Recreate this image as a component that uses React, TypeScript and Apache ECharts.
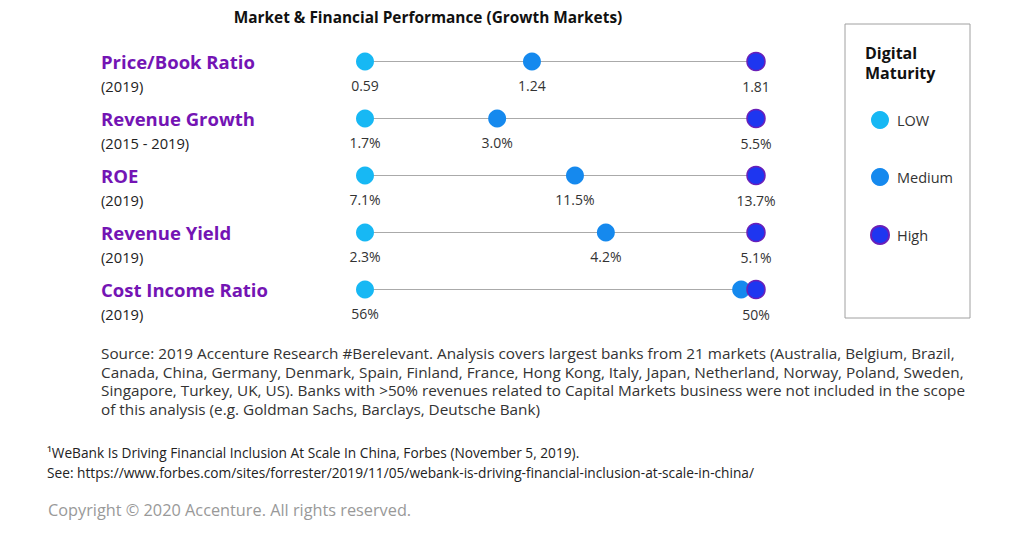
import React, { useEffect, useRef } from "react";
import * as echarts from "echarts";

const metrics = ["Price/Book Ratio", "Revenue Growth", "ROE", "Revenue Yield", "Cost Income Ratio"];
const periods = ["(2019)", "(2015 - 2019)", "(2019)", "(2019)", "(2019)"];
// relative position of each dot on its row (0 = low end, 100 = high end)
const lowPos = [0, 0, 0, 0, 0];
const mediumPos = [42.7, 33.8, 53.7, 61.6, 96.2];
const highPos = [100, 100, 100, 100, 100];
const lowLabels = ["0.59", "1.7%", "7.1%", "2.3%", "56%"];
const mediumLabels = ["1.24", "3.0%", "11.5%", "4.2%", ""];
const highLabels = ["1.81", "5.5%", "13.7%", "5.1%", "50%"];
const levels = ["LOW", "Medium", "High"];

const FONT = "'Open Sans', Roboto, sans-serif";

const sourceLines = [
  "Source: 2019 Accenture Research #Berelevant. Analysis covers largest banks from 21 markets (Australia, Belgium, Brazil,",
  "Canada, China, Germany, Denmark, Spain, Finland, France, Hong Kong, Italy, Japan, Netherland, Norway, Poland, Sweden,",
  "Singapore, Turkey, UK, US). Banks with >50% revenues related to Capital Markets business were not included in the scope",
  "of this analysis (e.g. Goldman Sachs, Barclays, Deutsche Bank)",
];
const footLines = [
  "¹WeBank Is Driving Financial Inclusion At Scale In China, Forbes (November 5, 2019).",
  "See: https://www.forbes.com/sites/forrester/2019/11/05/webank-is-driving-financial-inclusion-at-scale-in-china/",
];
const copyright = "Copyright © 2020 Accenture. All rights reserved.";

export default function App() {
  const ref = useRef<HTMLDivElement>(null);
  useEffect(() => {
    if (!ref.current) return;
    const chart = echarts.init(ref.current, null, { renderer: "svg" });
    const labelStyle = {
      show: true,
      position: "bottom" as const,
      distance: 8,
      fontFamily: FONT,
      fontSize: 14,
      color: "#333",
    };
    const mkSeries = (name: string, pos: number[], labels: string[], itemStyle: any) => ({
      name,
      type: "scatter",
      symbolSize: 18,
      itemStyle: { opacity: 1, ...itemStyle },
      z: 3,
      data: pos.map((p, i) => [p, i]),
      label: { ...labelStyle, formatter: (pp: any) => labels[pp.dataIndex] },
    });
    const lineSeries = metrics.map((m, i) => ({
      type: "line",
      silent: true,
      symbol: "none",
      z: 1,
      lineStyle: { color: "#aaa", width: 1 },
      data: [
        [lowPos[i], i],
        [highPos[i], i],
      ],
    }));
    const graphics: any[] = [
      {
        type: "rect",
        shape: { x: 845, y: 24, width: 125, height: 294 },
        style: { fill: "none", stroke: "#a0a0a0", lineWidth: 1 },
      },
      {
        type: "text",
        x: 865,
        y: 43,
        style: {
          text: "Digital\nMaturity",
          fontFamily: FONT,
          fontWeight: "bold",
          fontSize: 16,
          lineHeight: 20,
          fill: "#111",
        },
      },
      ...sourceLines.map((t, i) => ({
        type: "text",
        x: 101,
        y: 353 + i * 18.5,
        style: { text: t, fontFamily: FONT, fontSize: 15.3, fill: "#333", verticalAlign: "middle" },
      })),
      ...footLines.map((t, i) => ({
        type: "text",
        x: 47,
        y: 452 + i * 20,
        style: { text: t, fontFamily: FONT, fontSize: 13.7, fill: "#222", verticalAlign: "middle" },
      })),
      {
        type: "text",
        x: 48,
        y: 510,
        style: { text: copyright, fontFamily: FONT, fontSize: 16.3, fill: "#999", verticalAlign: "middle" },
      },
    ];
    chart.setOption({
      animation: false,
      title: {
        text: "Market & Financial Performance (Growth Markets)",
        left: 423,
        top: 5,
        textAlign: "center",
        textStyle: { fontFamily: FONT, fontWeight: "bold", fontSize: 15.4, color: "#111" },
      },
      legend: {
        data: levels,
        orient: "vertical",
        left: 865,
        top: 106,
        itemWidth: 18,
        itemHeight: 18,
        itemGap: 39,
        icon: "circle",
        textStyle: { fontFamily: FONT, fontSize: 14.5, color: "#333", padding: [0, 0, 0, 3] },
      },
      grid: { left: 365, right: 268, top: 33, bottom: 216 },
      xAxis: { type: "value", min: 0, max: 100, show: false },
      yAxis: {
        type: "category",
        inverse: true,
        data: metrics,
        axisLine: { show: false },
        axisTick: { show: false },
        splitLine: { show: false },
        axisLabel: {
          interval: 0,
          showMinLabel: true,
          showMaxLabel: true,
          hideOverlap: false,
          align: "left",
          margin: 264,
          formatter: (v: string, i: number) => `{e| }\n{t|${v}}\n{s|${periods[i]}}`,
          rich: {
            e: { fontSize: 14, lineHeight: 24 },
            t: { fontFamily: FONT, fontWeight: "bold", fontSize: 18.5, color: "#7414b4", lineHeight: 24 },
            s: { fontFamily: FONT, fontSize: 14.7, color: "#222", lineHeight: 24 },
          },
        },
      },
      series: [
        ...lineSeries,
        mkSeries("LOW", lowPos, lowLabels, { color: "#17b8f4" }),
        mkSeries("Medium", mediumPos, mediumLabels, { color: "#1589ee" }),
        mkSeries("High", highPos, highLabels, { color: "#1e36f0", borderColor: "#6a1fb8", borderWidth: 1.5 }),
      ],
      graphic: graphics,
    });
    return () => chart.dispose();
  }, []);
  return (
    <div
      ref={ref}
      style={{ position: "fixed", left: 0, top: 0, width: 1024, height: 534, background: "#fff" }}
    />
  );
}
